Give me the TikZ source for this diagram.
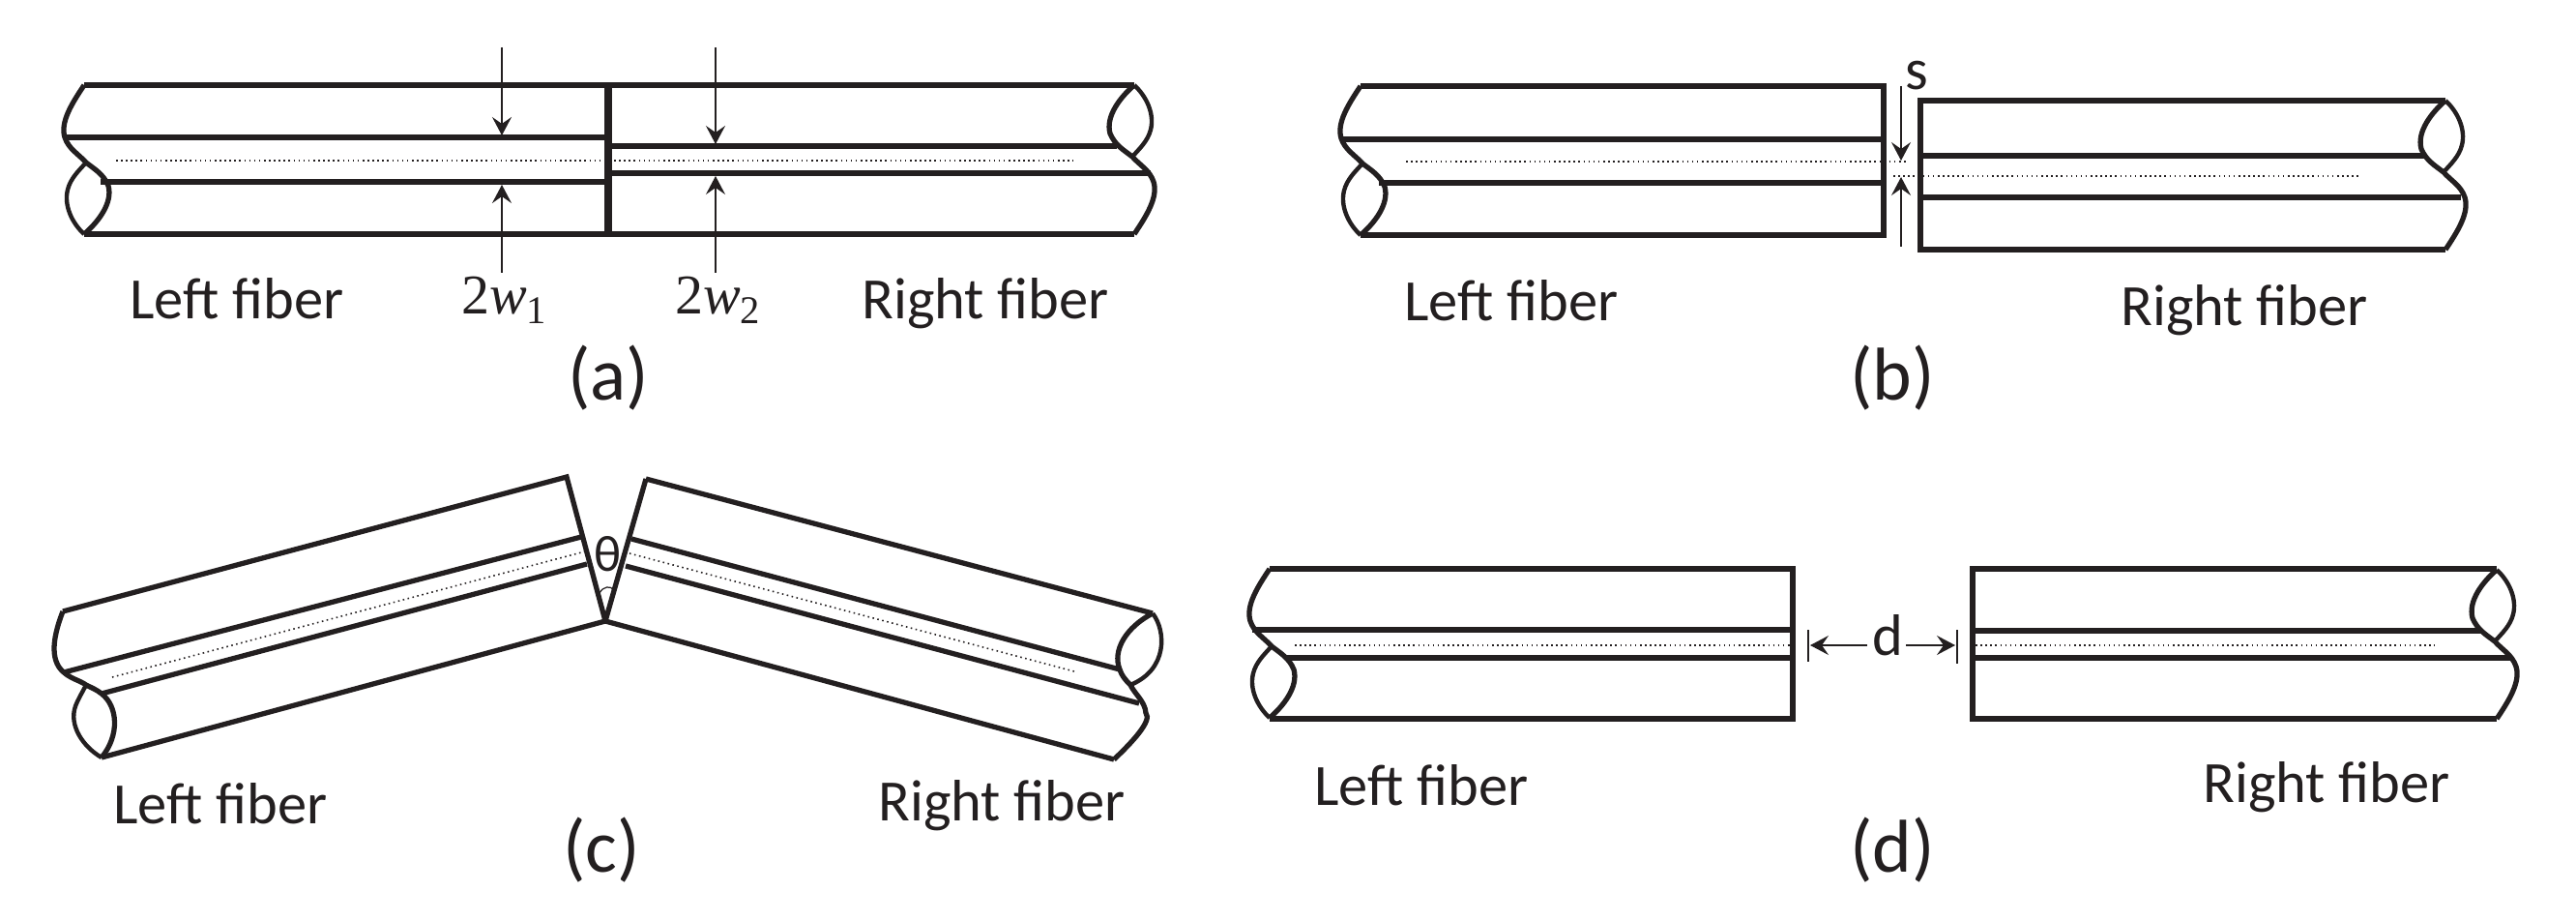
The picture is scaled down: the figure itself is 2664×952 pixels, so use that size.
\documentclass[tikz,border=0pt]{standalone}
\usepackage{fontspec}
\setmainfont{Carlito}
\newfontfamily\timesfont{Liberation Serif}
\usetikzlibrary{arrows.meta}
\definecolor{ink}{HTML}{231F20}
\tikzset{
  fiber/.style={draw=ink,line width=1.5pt,line join=miter},
  wall/.style={draw=ink,line width=2.3pt},
  lens/.style={draw=ink,line width=1.25pt},
  fiberaxis/.style={draw=ink,line width=0.45pt,densely dotted},
  dimline/.style={draw=ink,line width=0.35pt,-{Stealth[length=0.19cm,width=0.2cm,inset=0.07cm]}},
  tickline/.style={draw=ink,line width=0.35pt},
  fiberlabel/.style={text=ink,inner sep=0pt,anchor=base,font=\fontsize{17.2}{18}\selectfont},
  widthlabel/.style={text=ink,inner sep=0pt,anchor=base,font=\timesfont\fontsize{16.5}{18}\selectfont},
  panellabel/.style={text=ink,inner sep=0pt,anchor=base,font=\fontsize{22}{24}\selectfont},
  fiberend/.pic={
    \draw[fiber] (0,0) .. controls (-12,18) and (-25,38) .. (-20,54) .. controls (-16,66) and (-6,71) .. (2,80) .. controls (11,87) and (20,92) .. (25,104) .. controls (30,122) and (14,142) .. (0,154);
    \draw[lens] (0,154) .. controls (-13,142) and (-21,124) .. (-17,108) .. controls (-14,96) and (-5,88) .. (2,80);
  }
}
\begin{document}
\begin{tikzpicture}[x=0.01cm,y=-0.01cm]
\useasboundingbox (0,0) rectangle (2664,952);

% (a)
\draw[fiber] (87,88) -- (1173,88);
\draw[fiber] (87,242) -- (1173,242);
\draw[fiber] (69,142) -- (629,142);
\draw[fiber] (104,188) -- (629,188);
\draw[fiber] (629,151) -- (1155,151);
\draw[fiber] (629,179) -- (1190,179);
\draw[wall] (629,86) -- (629,244);
\draw[fiberaxis] (120,166) -- (1110,166);
\pic at (87,88) {fiberend};
\pic[rotate=180] at (1173,242) {fiberend};
\coordinate (a1t) at (519,49);
\coordinate (a1p) at (519,140);
\coordinate (a1b) at (519,282);
\coordinate (a1q) at (519,191);
\coordinate (a2t) at (740,49);
\coordinate (a2p) at (740,149);
\coordinate (a2b) at (740,282);
\coordinate (a2q) at (740,182);
\draw[dimline] (a1t) -- (a1p);
\draw[dimline] (a1b) -- (a1q);
\draw[dimline] (a2t) -- (a2p);
\draw[dimline] (a2b) -- (a2q);
\node[fiberlabel] (aleft) at (245,330) {Left fiber};
\node[fiberlabel] (aright) at (1019,330) {Right fiber};
\node[widthlabel] (aw1) at (522,325) {2\textit{w}\textsubscript{1}};
\node[widthlabel] (aw2) at (743,325) {2\textit{w}\textsubscript{2}};
\node[panellabel] (apanel) at (629,413) {(a)};

% (b)
\draw[fiber] (1407,89) -- (1948,89) -- (1948,243) -- (1407,243);
\draw[fiber] (1389,144) -- (1948,144);
\draw[fiber] (1426,189) -- (1948,189);
\draw[fiber] (2529,104) -- (1986,104) -- (1986,258) -- (2529,258);
\draw[fiber] (1986,161) -- (2508,161);
\draw[fiber] (1986,204) -- (2545,204);
\draw[fiberaxis] (1454,167) -- (1974,167);
\draw[fiberaxis] (1958,182) -- (2441,182);
\pic at (1407,89) {fiberend};
\pic[rotate=180] at (2529,258) {fiberend};
\coordinate (bt) at (1966,89);
\coordinate (bp) at (1966,166);
\coordinate (bb) at (1966,255);
\coordinate (bq) at (1966,183);
\draw[dimline] (bt) -- (bp);
\draw[dimline] (bb) -- (bq);
\node[fiberlabel] (bs) at (1982,93) {s};
\node[fiberlabel] (bleft) at (1563,332) {Left fiber};
\node[fiberlabel] (bright) at (2321,337) {Right fiber};
\node[panellabel] (bpanel) at (1957,413) {(b)};

% (c)
\draw[fiber] (65,632) -- (586,493) -- (626,642) -- (105,783);
\draw[fiber] (65,632) .. controls (56,655) and (50,682) .. (66,695) .. controls (74,702) and (82,703) .. (89,708) .. controls (95,711) and (100,713) .. (105,717) .. controls (122,730) and (124,760) .. (105,783);
\draw[lens] (105,783) .. controls (86,772) and (71,750) .. (78,730) .. controls (81,722) and (85,716) .. (89,708);
\draw[fiber] (66,695) -- (601,555);
\draw[fiber] (105,717) -- (607,583);
\draw[fiberaxis] (116,700) -- (605,570);
\draw[fiber] (668,495) -- (626,642) -- (1152,785);
\draw[fiber] (668,495) -- (1192,634);
\draw[fiber] (1152,785) .. controls (1170,768) and (1192,745) .. (1185,737) .. controls (1184,725) and (1174,718) .. (1169,708) .. controls (1163,702) and (1160,698) .. (1158,692) .. controls (1150,672) and (1165,648) .. (1192,634);
\draw[lens] (1192,634) .. controls (1206,652) and (1208,692) .. (1169,708);
\draw[fiber] (653,557) -- (1158,692);
\draw[fiber] (647,585) -- (1178,727);
\draw[fiberaxis] (651,572) -- (1111,694);
\coordinate (cl) at (620,613);
\coordinate (cr) at (635,610);
\draw[tickline] (cl) .. controls (624,606) and (631,605) .. (cr);
\node[fiberlabel,font=\fontsize{15}{18}\selectfont] (ctheta) at (629,590) {θ};
\node[fiberlabel] (cleft) at (228,851) {Left fiber};
\node[fiberlabel] (cright) at (1036,848) {Right fiber};
\node[panellabel] (cpanel) at (622,901) {(c)};

% (d)
\draw[fiber] (1313,588) -- (1854,588) -- (1854,743) -- (1313,743);
\draw[fiber] (1295,651) -- (1854,651);
\draw[fiber] (1331,680) -- (1854,680);
\draw[fiber] (2582,588) -- (2040,588) -- (2040,743) -- (2582,743);
\draw[fiber] (2040,652) -- (2566,652);
\draw[fiber] (2040,680) -- (2598,680);
\draw[fiberaxis] (1339,667) -- (1852,667);
\draw[fiberaxis] (2043,667) -- (2518,667);
\pic at (1313,588) {fiberend};
\pic[rotate=180] at (2582,743) {fiberend};
\coordinate (dlt) at (1870,651);
\coordinate (dlb) at (1870,684);
\coordinate (drt) at (2024,651);
\coordinate (drb) at (2024,686);
\draw[tickline] (dlt) -- (dlb);
\draw[tickline] (drt) -- (drb);
\node[fiberlabel] (dd) at (1952,677) {d};
\coordinate (dlp) at (1872,667);
\coordinate (drp) at (2022,667);
\draw[dimline] (1931,667) -- (dlp);
\draw[dimline] (1971,667) -- (drp);
\node[fiberlabel] (dleft) at (1470,832) {Left fiber};
\node[fiberlabel] (dright) at (2406,829) {Right fiber};
\node[panellabel] (dpanel) at (1957,901) {(d)};
\end{tikzpicture}
\end{document}
